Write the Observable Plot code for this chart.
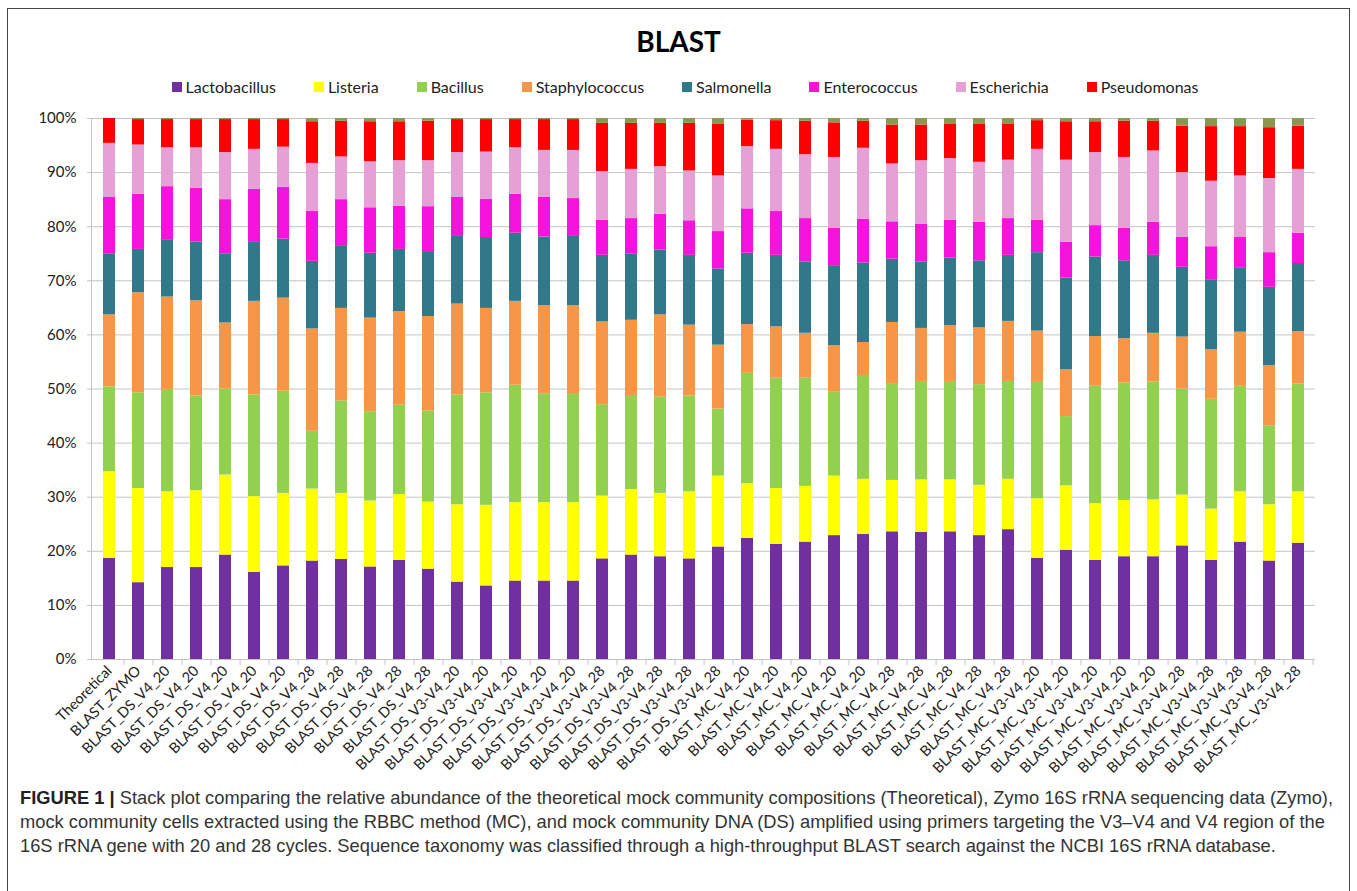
<!DOCTYPE html>
<html><head><meta charset="utf-8">
<script src="https://cdn.jsdelivr.net/npm/d3@7"></script>
<script src="https://cdn.jsdelivr.net/npm/@observablehq/plot@0.6"></script>
<style>
html,body{margin:0;padding:0;background:#fff;}
body{width:1357px;height:891px;position:relative;overflow:hidden;font-family:Lato,sans-serif;}
#box{position:absolute;left:7px;top:8px;width:1341px;height:900px;border:1px solid #444;border-bottom:none;}
#title{position:absolute;left:0;width:1357px;top:24px;text-align:center;font-weight:bold;font-size:28px;font-family:Lato,sans-serif;color:#000;}
#legend{position:absolute;top:77px;left:0;width:1370px;display:flex;justify-content:center;gap:38px;font-size:16px;color:#222;}
#legend .it{display:flex;align-items:center;gap:4px;}
#legend .sw{width:10px;height:10px;display:inline-block;}
#chart{position:absolute;left:0;top:100px;}
#caption{position:absolute;left:20px;top:786px;font-family:"Liberation Sans",Arial,sans-serif;font-size:18.5px;line-height:24px;color:#333;white-space:nowrap;transform-origin:0 0;}
#caption b{color:#222;}
</style></head>
<body>
<div id="box"></div>
<div id="title">BLAST</div>
<div id="legend"></div>
<div id="chart"></div>
<div id="caption">
<div><span id="cl1"><b>FIGURE 1 |</b> Stack plot comparing the relative abundance of the theoretical mock community compositions (Theoretical), Zymo 16S rRNA sequencing data (Zymo),</span></div>
<div>mock community cells extracted using the RBBC method (MC), and mock community DNA (DS) amplified using primers targeting the V3–V4 and V4 region of the</div>
<div>16S rRNA gene with 20 and 28 cycles. Sequence taxonomy was classified through a high-throughput BLAST search against the NCBI 16S rRNA database.</div>
</div>
<script>
const labels = ["Theoretical","BLAST_ZYMO",
"BLAST_DS_V4_20","BLAST_DS_V4_20","BLAST_DS_V4_20","BLAST_DS_V4_20","BLAST_DS_V4_20",
"BLAST_DS_V4_28","BLAST_DS_V4_28","BLAST_DS_V4_28","BLAST_DS_V4_28","BLAST_DS_V4_28",
"BLAST_DS_V3-V4_20","BLAST_DS_V3-V4_20","BLAST_DS_V3-V4_20","BLAST_DS_V3-V4_20","BLAST_DS_V3-V4_20",
"BLAST_DS_V3-V4_28","BLAST_DS_V3-V4_28","BLAST_DS_V3-V4_28","BLAST_DS_V3-V4_28","BLAST_DS_V3-V4_28",
"BLAST_MC_V4_20","BLAST_MC_V4_20","BLAST_MC_V4_20","BLAST_MC_V4_20","BLAST_MC_V4_20",
"BLAST_MC_V4_28","BLAST_MC_V4_28","BLAST_MC_V4_28","BLAST_MC_V4_28","BLAST_MC_V4_28",
"BLAST_MC_V3-V4_20","BLAST_MC_V3-V4_20","BLAST_MC_V3-V4_20","BLAST_MC_V3-V4_20","BLAST_MC_V3-V4_20",
"BLAST_MC_V3-V4_28","BLAST_MC_V3-V4_28","BLAST_MC_V3-V4_28","BLAST_MC_V3-V4_28","BLAST_MC_V3-V4_28"];

const species = ["Lactobacillus","Listeria","Bacillus","Staphylococcus","Salmonella","Enterococcus","Escherichia","Pseudomonas"];
const speciesColors = ["#7030A0","#FFFF00","#92D050","#F79646","#31788A","#F514DD","#E6A0D5","#FF0000"];
const otherColor = "#86994f";

const lactobacillus = [18.7,14.2,17.0,17.0,19.3,16.1,17.3,18.2,18.5,17.1,18.3,16.7,14.3,13.6,14.5,14.5,14.5,18.6,19.3,19.0,18.6,20.8,22.4,21.3,21.7,22.9,23.1,23.6,23.5,23.6,22.9,24.0,18.7,20.2,18.3,19.0,19.0,21.0,18.3,21.7,18.2,21.5];
const listeria = [16.0,17.4,14.0,14.2,14.8,14.0,13.4,13.3,12.2,12.2,12.2,12.4,14.3,14.9,14.5,14.5,14.5,11.6,12.1,11.7,12.4,13.1,10.1,10.3,10.3,11.0,10.2,9.5,9.7,9.6,9.3,9.3,11.0,11.9,10.5,10.4,10.5,9.4,9.5,9.3,10.4,9.5];
const bacillus = [15.7,17.7,18.9,17.5,15.9,18.8,18.9,10.7,17.1,16.5,16.5,16.8,20.3,20.8,21.7,20.1,20.0,16.9,17.4,17.8,17.7,12.4,20.4,20.4,20.0,15.5,19.2,17.9,18.2,18.2,18.6,18.1,21.7,12.8,21.7,21.7,21.8,19.6,20.3,19.5,14.6,19.9];
const staphylococcus = [13.3,18.5,17.1,17.6,12.2,17.3,17.2,18.9,17.1,17.3,17.3,17.5,16.8,15.6,15.5,16.3,16.4,15.3,13.9,15.2,13.1,11.8,9.0,9.5,8.3,8.6,6.1,11.3,9.8,10.3,10.5,11.1,9.3,8.7,9.2,8.2,9.0,9.6,9.2,10.0,11.1,9.7];
const salmonella = [11.3,8.0,10.6,10.9,12.8,10.9,10.9,12.5,11.6,12.0,11.5,12.0,12.5,13.1,12.6,12.7,12.8,12.3,12.2,12.0,12.9,14.1,13.2,13.2,13.2,14.8,14.7,11.7,12.3,12.5,12.4,12.2,14.5,16.9,14.7,14.4,14.4,12.9,12.9,11.8,14.5,12.6];
const enterococcus = [10.4,10.2,9.8,9.9,10.0,9.8,9.6,9.2,8.5,8.4,8.0,8.3,7.2,7.1,7.2,7.3,7.0,6.5,6.6,6.6,6.4,6.9,8.2,8.1,8.0,6.9,8.1,6.9,7.0,7.0,7.1,6.8,6.0,6.6,5.8,6.0,6.1,5.5,6.1,5.7,6.4,5.6];
const escherichia = [10.0,9.1,7.2,7.5,8.7,7.4,7.4,8.9,7.9,8.5,8.4,8.5,8.3,8.7,8.6,8.7,8.9,9.0,9.1,8.8,9.2,10.3,11.5,11.5,11.8,13.1,13.1,10.7,11.7,11.4,11.1,10.8,13.1,15.2,13.5,13.1,13.2,12.0,12.1,11.4,13.7,11.8];
const pseudomonas = [4.6,4.7,5.2,5.2,6.1,5.5,5.1,7.7,6.6,7.4,7.2,7.3,6.1,6.0,5.2,5.7,5.7,8.9,8.5,8.0,8.8,9.6,4.9,5.3,6.2,6.4,5.0,7.2,6.6,6.3,7.1,6.6,5.3,7.1,5.7,6.7,5.5,8.6,10.1,9.1,9.4,8.0];
const other = [0,0.2,0.2,0.2,0.2,0.2,0.2,0.6,0.5,0.6,0.6,0.5,0.2,0.2,0.2,0.2,0.2,0.9,0.9,0.9,0.9,1.0,0.3,0.4,0.5,0.8,0.5,1.2,1.2,1.1,1.0,1.1,0.4,0.6,0.6,0.5,0.5,1.4,1.5,1.5,1.7,1.4];
const yTicks = [0,10,20,30,40,50,60,70,80,90,100];

const seriesValues = [lactobacillus,listeria,bacillus,staphylococcus,salmonella,enterococcus,escherichia,pseudomonas,other];
const seriesNames = [...species, "Other"];
const rows = [];
seriesNames.forEach((s, k) => seriesValues[k].forEach((v, i) => rows.push({i, species: s, value: v})));

// legend
const lg = document.getElementById("legend");
species.forEach((s, k) => {
  const it = document.createElement("div"); it.className = "it";
  const sw = document.createElement("span"); sw.className = "sw"; sw.style.background = speciesColors[k];
  const tx = document.createElement("span"); tx.textContent = s;
  it.appendChild(sw); it.appendChild(tx); lg.appendChild(it);
});

const W = 1357, mL = 91, mR = 42;
const step = (W - mL - mR) / labels.length;

const chart = Plot.plot({
  width: W, height: 680,
  marginLeft: mL, marginRight: mR, marginTop: 18, marginBottom: 121,
  style: {fontFamily: "Lato, sans-serif", fontSize: "14px", color: "#222", background: "transparent"},
  x: {domain: d3.range(labels.length), paddingInner: 0.6, paddingOuter: 0.3, axis: null, label: null},
  y: {domain: [0, 100], axis: null, label: null},
  color: {domain: seriesNames, range: [...speciesColors, otherColor]},
  marks: [
    Plot.gridY(yTicks, {stroke: "#c4c4c4", strokeOpacity: 1}),
    Plot.frame({anchor: "left", stroke: "#c4c4c4"}),
    Plot.barY(rows, {x: "i", y: "value", fill: "species"}),
    Plot.axisY(yTicks, {tickSize: 4, tickPadding: 11, tickFormat: d => d + "%", fontSize: 15, stroke: "#c4c4c4", fill: "#222", label: null}),
    Plot.axisX({tickSize: 6, tickFormat: () => "", dx: step / 2, stroke: "#c4c4c4", label: null}),
    Plot.axisX({tickSize: 0, tickPadding: 9, tickRotate: -45, tickFormat: i => labels[i], fontSize: 14.5, fill: "#222", label: null})
  ]
});
document.getElementById("chart").appendChild(chart);

// condense caption horizontally so its first line spans the reference width
const cl1 = document.getElementById("cl1");
const cap = document.getElementById("caption");
const target = 1313;
const r = target / cl1.getBoundingClientRect().width;
cap.style.transform = "scaleX(" + r.toFixed(4) + ")";
</script>
</body></html>
